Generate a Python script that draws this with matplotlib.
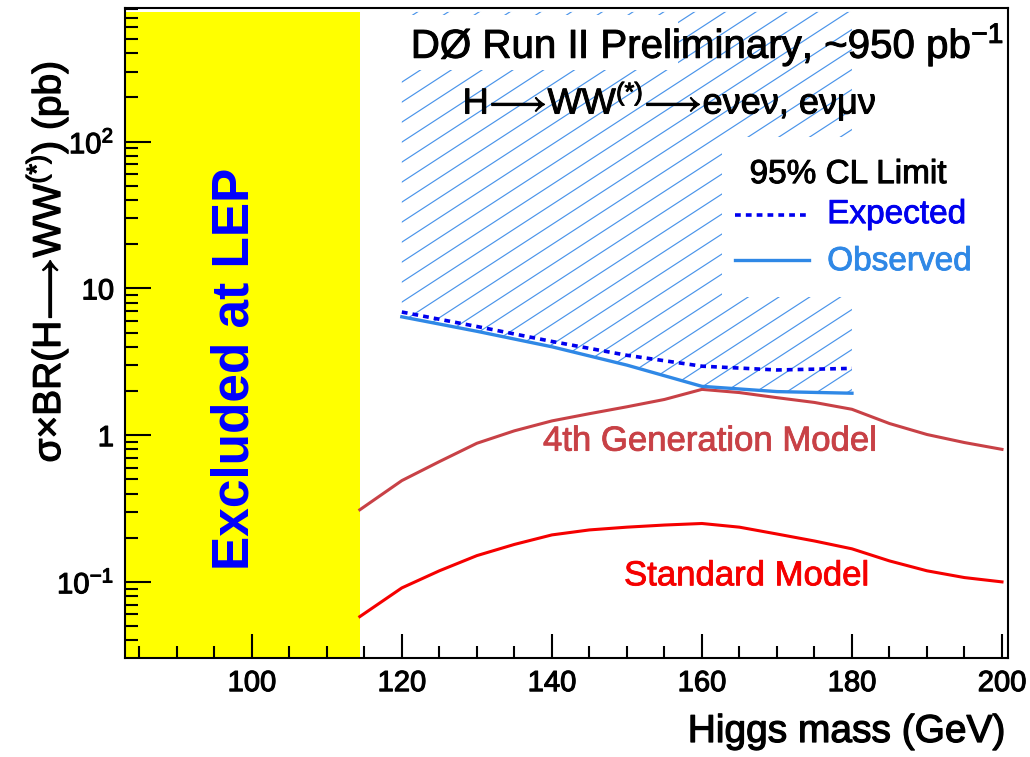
import numpy as np
import matplotlib
matplotlib.use("Agg")
import matplotlib.pyplot as plt
import matplotlib.patheffects as pe
import matplotlib.transforms as mtransforms
from matplotlib.patches import Rectangle, Polygon
from matplotlib.collections import LineCollection
from matplotlib.ticker import FixedLocator, MultipleLocator, LogLocator, NullLocator, FixedFormatter

plt.rcParams['font.family'] = ['Liberation Sans', 'DejaVu Sans']
plt.rcParams['mathtext.fontset'] = 'custom'
plt.rcParams['mathtext.rm'] = 'Liberation Sans'
plt.rcParams['mathtext.it'] = 'Liberation Sans:italic'
plt.rcParams['mathtext.bf'] = 'Liberation Sans:bold'
plt.rcParams['mathtext.fallback'] = 'stixsans'

# 95% CL upper limits on sigma x BR(H->WW(*)) [pb]
limit_mass = [120, 130, 140, 150, 160, 170, 180]
expected_limit = [6.9, 5.5, 4.35, 3.5, 2.95, 2.78, 2.85]
observed_limit = [6.4, 5.1, 4.0, 3.0, 2.15, 1.98, 1.93]

# Model predictions [pb]
model_mass = [114.4, 120, 125, 130, 135, 140, 145, 150, 155, 160,
              165, 170, 175, 180, 185, 190, 195, 200]
fourth_generation = [0.31, 0.49, 0.66, 0.88, 1.07, 1.25, 1.40, 1.56, 1.75, 2.05,
                     1.95, 1.80, 1.67, 1.50, 1.20, 1.01, 0.89, 0.80]
standard_model = [0.058, 0.091, 0.119, 0.151, 0.180, 0.209, 0.226, 0.236, 0.244, 0.250,
                  0.236, 0.212, 0.190, 0.168, 0.139, 0.119, 0.107, 0.100]

lep_bound = 114.4

x_major_ticks = [100, 120, 140, 160, 180, 200]
y_major_ticks = [0.1, 1, 10, 100]
y_tick_labels = ['$10^{-1}$', '1', '10', '$10^{2}$']

x_range = (83.1, 200.8)
y_range = (0.0303, 820)
band_top = 765

col_obs = '#2f88e6'
col_hatch = '#4a94ea'
col_exp = '#0000ee'
col_4g = '#c84146'
col_sm = '#f50000'


def heavy(color, w=0.7):
    return [pe.Stroke(linewidth=w, foreground=color), pe.Normal()]


fig = plt.figure(figsize=(10.30, 7.57), dpi=100, facecolor='white')
ax = fig.add_axes([125 / 1030, 99 / 757, 883 / 1030, 650.5 / 757])
ax.set_yscale('log')
ax.set_xlim(*x_range)
ax.set_ylim(*y_range)
ax.set_autoscale_on(False)

# LEP exclusion: from the left frame edge up to the LEP bound
top_frac = (np.log10(band_top) - np.log10(y_range[0])) / \
    (np.log10(y_range[1]) - np.log10(y_range[0]))
ax.axvspan(x_range[0], lep_bound, ymin=0, ymax=top_frac,
           facecolor='#ffff00', edgecolor='none', lw=0, zorder=0.5)

# excluded region above the observed limit, hatched
verts = list(zip(limit_mass, observed_limit)) + [(limit_mass[-1], band_top),
                                                  (limit_mass[0], band_top)]
region = Polygon(verts, closed=True, facecolor='none', edgecolor='none')
ax.add_patch(region)

fig.canvas.draw()
bb = ax.get_window_extent()
slope_px = 0.65
gap_px = 20.0
slope_ax = slope_px * bb.width / bb.height
gap_ax = gap_px / bb.height
offsets = np.arange(-slope_ax - 0.2, 1.2, gap_ax)
segs = [[(0, c), (1, c + slope_ax)] for c in offsets]
hatch = LineCollection(segs, colors=col_hatch, linewidths=0.85,
                       transform=ax.transAxes, zorder=1)
ax.add_collection(hatch, autolim=False)
hatch.set_clip_path(region)

# white panels behind the title and the legend
ax.add_patch(Rectangle((0.30, 0.904), 0.326, 0.085, transform=ax.transAxes,
                       facecolor='white', edgecolor='none', zorder=2))
ax.add_patch(Rectangle((0.676, 0.555), 0.32, 0.246, transform=ax.transAxes,
                       facecolor='white', edgecolor='none', zorder=2))

# curves
ax.plot(model_mass, fourth_generation, color=col_4g, lw=2.2, zorder=3)
ax.plot(model_mass, standard_model, color=col_sm, lw=2.2, zorder=3)
ax.plot(limit_mass, observed_limit, color=col_obs, lw=2.4, zorder=4)
ax.plot(limit_mass, expected_limit, color=col_exp, lw=2.6, zorder=5,
        dashes=(1.6, 1.4))

# axes styling
for s in ax.spines.values():
    s.set_linewidth(1.5)
    s.set_zorder(6.6)
ax.xaxis.set_major_locator(FixedLocator(x_major_ticks))
ax.xaxis.set_minor_locator(MultipleLocator(5))
ax.yaxis.set_major_locator(FixedLocator(y_major_ticks))
ax.yaxis.set_major_formatter(FixedFormatter(y_tick_labels))
ax.yaxis.set_minor_locator(NullLocator())
ax.tick_params(which='both', direction='in', top=False, right=False, width=1.5,
               labelsize=21, pad=8)
ax.tick_params(axis='x', which='major', length=17)
ax.tick_params(axis='x', which='minor', length=9)
ax.tick_params(axis='y', which='major', length=19)
for lbl in ax.get_xticklabels() + ax.get_yticklabels():
    lbl.set_path_effects(heavy('black', 0.8))

# log minor ticks on the y axis, drawn as short inward segments
minor_vals = LogLocator(base=10, subs=np.arange(2, 10)).tick_values(*y_range)
minor_vals = [v for v in minor_vals if y_range[0] < v < y_range[1]]
tick_frac = 13.0 / bb.width
ytrans = mtransforms.blended_transform_factory(ax.transAxes, ax.transData)
ax.add_collection(LineCollection([[(0, v), (tick_frac, v)] for v in minor_vals],
                                 colors='black', linewidths=1.5,
                                 transform=ytrans, zorder=6.5), autolim=False)

arrow = r'$\!\longrightarrow\!$'

# axis titles
fig.text(1005 / 1030, 1 - 732 / 757, 'Higgs mass (GeV)', ha='right', va='center',
         fontsize=28, path_effects=heavy('black', 0.9))
fig.text(47 / 1030, 1 - 262 / 757, 'σ×BR(H' + arrow + 'WW$^{(*)}$) (pb)',
         rotation=90, ha='center', va='center', fontsize=28,
         path_effects=heavy('black', 0.9))

# annotations
ax.text(97.7, 2.82, 'Excluded at LEP', rotation=90, ha='center', va='center',
        fontsize=37, fontweight='bold', color='#0000ff', zorder=7)
ax.text(160.7, 458, 'DØ Run II Preliminary, ~950 pb$^{-1}$', ha='center',
        va='center', fontsize=29, zorder=7, path_effects=heavy('black', 0.7))
ax.text(155.7, 190, 'H' + arrow + 'WW$^{(*)}$' + arrow + 'eνeν, eνμν',
        ha='center', va='center', fontsize=26, zorder=7,
        path_effects=heavy('black', 0.7))
ax.text(179.5, 59.6, '95% CL Limit', ha='center', va='center', fontsize=24,
        zorder=7, path_effects=heavy('black', 0.7))
ax.text(176.7, 31.8, 'Expected', ha='left', va='center', fontsize=24,
        color=col_exp, zorder=7, path_effects=heavy(col_exp, 0.6))
ax.text(176.7, 15.2, 'Observed', ha='left', va='center', fontsize=24,
        color=col_obs, zorder=7, path_effects=heavy(col_obs, 0.6))
ax.plot([164.4, 173.9], [31.5, 31.5], color=col_exp, lw=2.6, dashes=(1.6, 1.4),
        zorder=7)
ax.plot([164.4, 174.3], [15.6, 15.6], color=col_obs, lw=2.4, zorder=7)
ax.text(161.1, 0.91, '4th Generation Model', ha='center', va='center',
        fontsize=25, color=col_4g, zorder=7, path_effects=heavy(col_4g, 0.6))
ax.text(166.0, 0.11, 'Standard Model', ha='center', va='center', fontsize=25,
        color=col_sm, zorder=7, path_effects=heavy(col_sm, 0.6))

fig.savefig('out.png', dpi=100, facecolor='white')
